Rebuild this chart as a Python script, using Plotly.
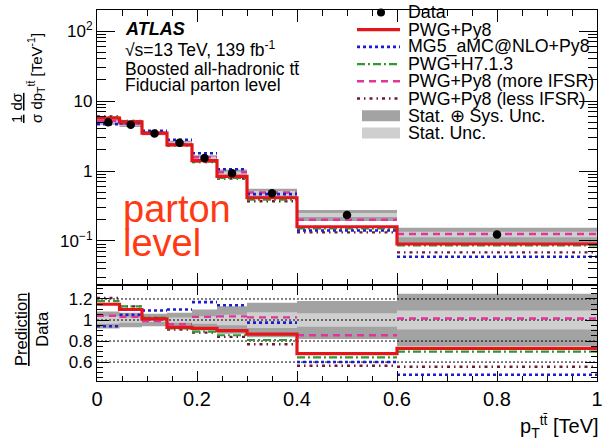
import numpy as np
import plotly.graph_objects as go

# ---------------- data ----------------
bin_edges = [0.0, 0.045, 0.09, 0.14, 0.19, 0.24, 0.30, 0.40, 0.60, 1.00]
data_vals = [4.97, 4.58, 3.45, 2.54, 1.53, 0.93, 0.48, 0.235, 0.124]
tot_unc = [0.08, 0.07, 0.06, 0.07, 0.10, 0.13, 0.165, 0.18, 0.25]
stat_unc = [0.035, 0.025, 0.02, 0.025, 0.035, 0.05, 0.075, 0.065, 0.09]

ratio_pwg_py8 = [1.15, 1.10, 1.01, 0.93, 0.92, 0.90, 0.865, 0.68, 0.73]
ratio_mg5 = [0.94, 1.05, 1.09, 1.10, 1.17, 1.14, 0.975, 0.60, 0.48]
ratio_h7 = [1.18, 1.13, 1.02, 0.92, 0.89, 0.855, 0.81, 0.645, 0.70]
ratio_more = [1.04, 1.03, 0.99, 0.96, 1.03, 1.035, 1.025, 0.855, 1.015]
ratio_less = [1.21, 1.13, 1.02, 0.91, 0.88, 0.84, 0.77, 0.565, 0.555]

model_names = ["PWG+Py8", "MG5_aMC@NLO+Py8", "PWG+H7.1.3",
               "PWG+Py8 (more IFSR)", "PWG+Py8 (less IFSR)"]
model_ratios = [ratio_pwg_py8, ratio_mg5, ratio_h7, ratio_more, ratio_less]
model_colors = ["#e3161b", "#1c1cd0", "#2f9a2f", "#e0359a", "#6e1a33"]
model_dash = ["solid", "3px,3px", "8px,3px,2px,3px", "7px,5px", "3px,4px,1.5px,4px"]
model_width = [3.2, 2.6, 2.2, 2.4, 2.4]
band_names = ["Stat. \u2295 Sys. Unc.", "Stat. Unc."]
band_colors = ["#a3a3a3", "#cfcfcf"]
ref_lines = [0.6, 0.8, 1.0, 1.2]

FONT = "Liberation Sans, Arial, Helvetica, sans-serif"

W, H = 604, 440
ML, MR, MT, MB = 97, 7, 10, 59
PW = W - ML - MR
PH = H - MT - MB


def px(xp):
    return (xp - ML) / PW


def py(yp):
    return (H - MB - yp) / PH


edges = np.array(bin_edges)
dv = np.array(data_vals)
centers = 0.5 * (edges[:-1] + edges[1:])


def box_path(lo, hi):
    xs, ys = [], []
    for i in range(len(lo)):
        xs += [edges[i], edges[i + 1], edges[i + 1], edges[i], edges[i], None]
        ys += [lo[i], lo[i], hi[i], hi[i], lo[i], None]
    return xs, ys


def seg_path(vals):
    xs, ys = [], []
    for i in range(len(vals)):
        xs += [edges[i], edges[i + 1], None]
        ys += [vals[i], vals[i], None]
    return xs, ys


fig = go.Figure()

# uncertainty bands (main + ratio)
for unc, col in [(tot_unc, band_colors[0]), (stat_unc, band_colors[1])]:
    u = np.array(unc)
    xs, ys = box_path(dv * (1 - u), dv * (1 + u))
    fig.add_trace(go.Scatter(x=xs, y=ys, mode="lines", fill="toself", fillcolor=col,
                             line=dict(width=0, color=col), showlegend=False,
                             xaxis="x", yaxis="y", hoverinfo="skip"))
    xs, ys = box_path(1 - u, 1 + u)
    fig.add_trace(go.Scatter(x=xs, y=ys, mode="lines", fill="toself", fillcolor=col,
                             line=dict(width=0, color=col), showlegend=False,
                             xaxis="x2", yaxis="y2", hoverinfo="skip"))

# dotted reference lines in ratio
for r in ref_lines:
    fig.add_trace(go.Scatter(x=[edges[0], edges[-1]], y=[r, r], mode="lines",
                             line=dict(color="black", width=1, dash="2px,2px"),
                             showlegend=False, xaxis="x2", yaxis="y2", hoverinfo="skip"))

# models (red on top)
for k in [4, 3, 2, 1, 0]:
    rat = np.array(model_ratios[k])
    pred = rat * dv
    if k == 0:
        xm, ym = list(edges), list(pred) + [pred[-1]]
        xr, yr = list(edges), list(rat) + [rat[-1]]
        shape = "hv"
    else:
        xm, ym = seg_path(pred)
        xr, yr = seg_path(rat)
        shape = "linear"
    ln = dict(color=model_colors[k], width=model_width[k], dash=model_dash[k])
    fig.add_trace(go.Scatter(x=xm, y=ym, mode="lines", line_shape=shape, line=ln,
                             showlegend=False, xaxis="x", yaxis="y", hoverinfo="skip"))
    fig.add_trace(go.Scatter(x=xr, y=yr, mode="lines", line_shape=shape, line=ln,
                             showlegend=False, xaxis="x2", yaxis="y2", hoverinfo="skip"))

# data
fig.add_trace(go.Scatter(x=centers, y=dv, mode="markers",
                         marker=dict(color="black", size=8.5), showlegend=False,
                         xaxis="x", yaxis="y", hoverinfo="skip"))

split = (H - MB - 285) / PH
axis_common = dict(showline=True, linecolor="black", linewidth=1.2, mirror="ticks",
                   ticks="inside", tickcolor="black", showgrid=False, zeroline=False)

fig.update_layout(
    width=W, height=H,
    margin=dict(l=ML, r=MR, t=MT, b=MB, autoexpand=False),
    paper_bgcolor="white", plot_bgcolor="white",
    font=dict(family=FONT, color="black"),
    showlegend=False,
    xaxis=dict(domain=[0, 1], range=[0, 1], anchor="y", dtick=0.2, tick0=0,
               ticklen=12, showticklabels=False,
               minor=dict(dtick=0.05, ticks="inside", ticklen=6, tickcolor="black"),
               **axis_common),
    yaxis=dict(domain=[split, 1], type="log", anchor="x",
               range=[np.log10(0.0235), np.log10(200)],
               tickvals=[0.1, 1, 10, 100],
               ticktext=["10<sup>\u22121</sup>", "1", "10", "10<sup>2</sup>"],
               ticklen=18, tickfont=dict(size=17),
               minor=dict(dtick="D1", ticks="inside", ticklen=9, tickcolor="black"),
               **axis_common),
    xaxis2=dict(domain=[0, 1], range=[0, 1], anchor="y2", dtick=0.2, tick0=0,
                ticklen=10, tickfont=dict(size=20),
                minor=dict(dtick=0.05, ticks="inside", ticklen=5, tickcolor="black"),
                **axis_common),
    yaxis2=dict(domain=[0, split], range=[0.42, 1.333], anchor="x2",
                tickvals=[0.6, 0.8, 1.0, 1.2], ticktext=["0.6", "0.8", "1", "1.2"],
                ticklen=12, tickfont=dict(size=17),
                minor=dict(dtick=0.05, ticks="inside", ticklen=6, tickcolor="black"),
                **axis_common),
)


def note(xp, yp, text, size, anchor="left", angle=0, color="black", align="left", yanchor="middle"):
    fig.add_annotation(xref="paper", yref="paper", x=px(xp), y=py(yp), xanchor=anchor,
                       yanchor=yanchor, showarrow=False, textangle=angle, align=align,
                       text=text, font=dict(family=FONT, size=size, color=color))


# labels in the plot
note(123, 29, "<b><i>ATLAS</i></b>", 18)
note(123, 49, "\u221as=13 TeV, 139 fb<sup>-1</sup>", 17.5)
note(123, 69, "Boosted all-hadronic t\u0074\u0304", 17.5)
note(123, 85, "Fiducial parton level", 17.5)

note(121, 209, "parton", 38, color="#ff3a12")
note(121, 243, "level", 38, color="#ff3a12")

# ---------- manual legend ----------
leg_x_text = 406
leg_y0, leg_dy = 12.5, 17.2
leg_labels = ["Data"] + model_names + band_names
for i, lab in enumerate(leg_labels):
    note(leg_x_text, leg_y0 + i * leg_dy, lab, 17.8)
# data glyph
yy = leg_y0
fig.add_shape(type="circle", xref="paper", yref="paper",
              x0=px(377), x1=px(385), y0=py(yy + 4), y1=py(yy - 4),
              fillcolor="black", line=dict(color="black", width=0))
for k in range(5):
    yy = leg_y0 + (k + 1) * leg_dy
    fig.add_shape(type="line", xref="paper", yref="paper",
                  x0=px(357), x1=px(400), y0=py(yy), y1=py(yy),
                  line=dict(color=model_colors[k], width=model_width[k], dash=model_dash[k]))
for j in range(2):
    yy = leg_y0 + (6 + j) * leg_dy
    fig.add_shape(type="rect", xref="paper", yref="paper",
                  x0=px(362), x1=px(400), y0=py(yy + 5.5), y1=py(yy - 5.5),
                  fillcolor=band_colors[j], line=dict(width=0))

# y title main (fraction-like)
note(28, 78, "<u>1</u> <u>d\u03c3</u><br>\u03c3 dp<sub>T</sub><sup>t\u0074\u0304</sup> [TeV<sup>-1</sup>]",
     15, anchor="center", angle=-90, align="left")

# y title ratio
note(31, 330, "<u>Prediction</u><br>Data", 16.5, anchor="center", angle=-90, align="center")

# x title
note(601, 426, "p<sub>T</sub><sup>t\u0074\u0304</sup> [TeV]", 20, anchor="right")

fig.write_html("out.html", config={"displayModeBar": False},
               post_script="document.body.style.margin='0px';")
